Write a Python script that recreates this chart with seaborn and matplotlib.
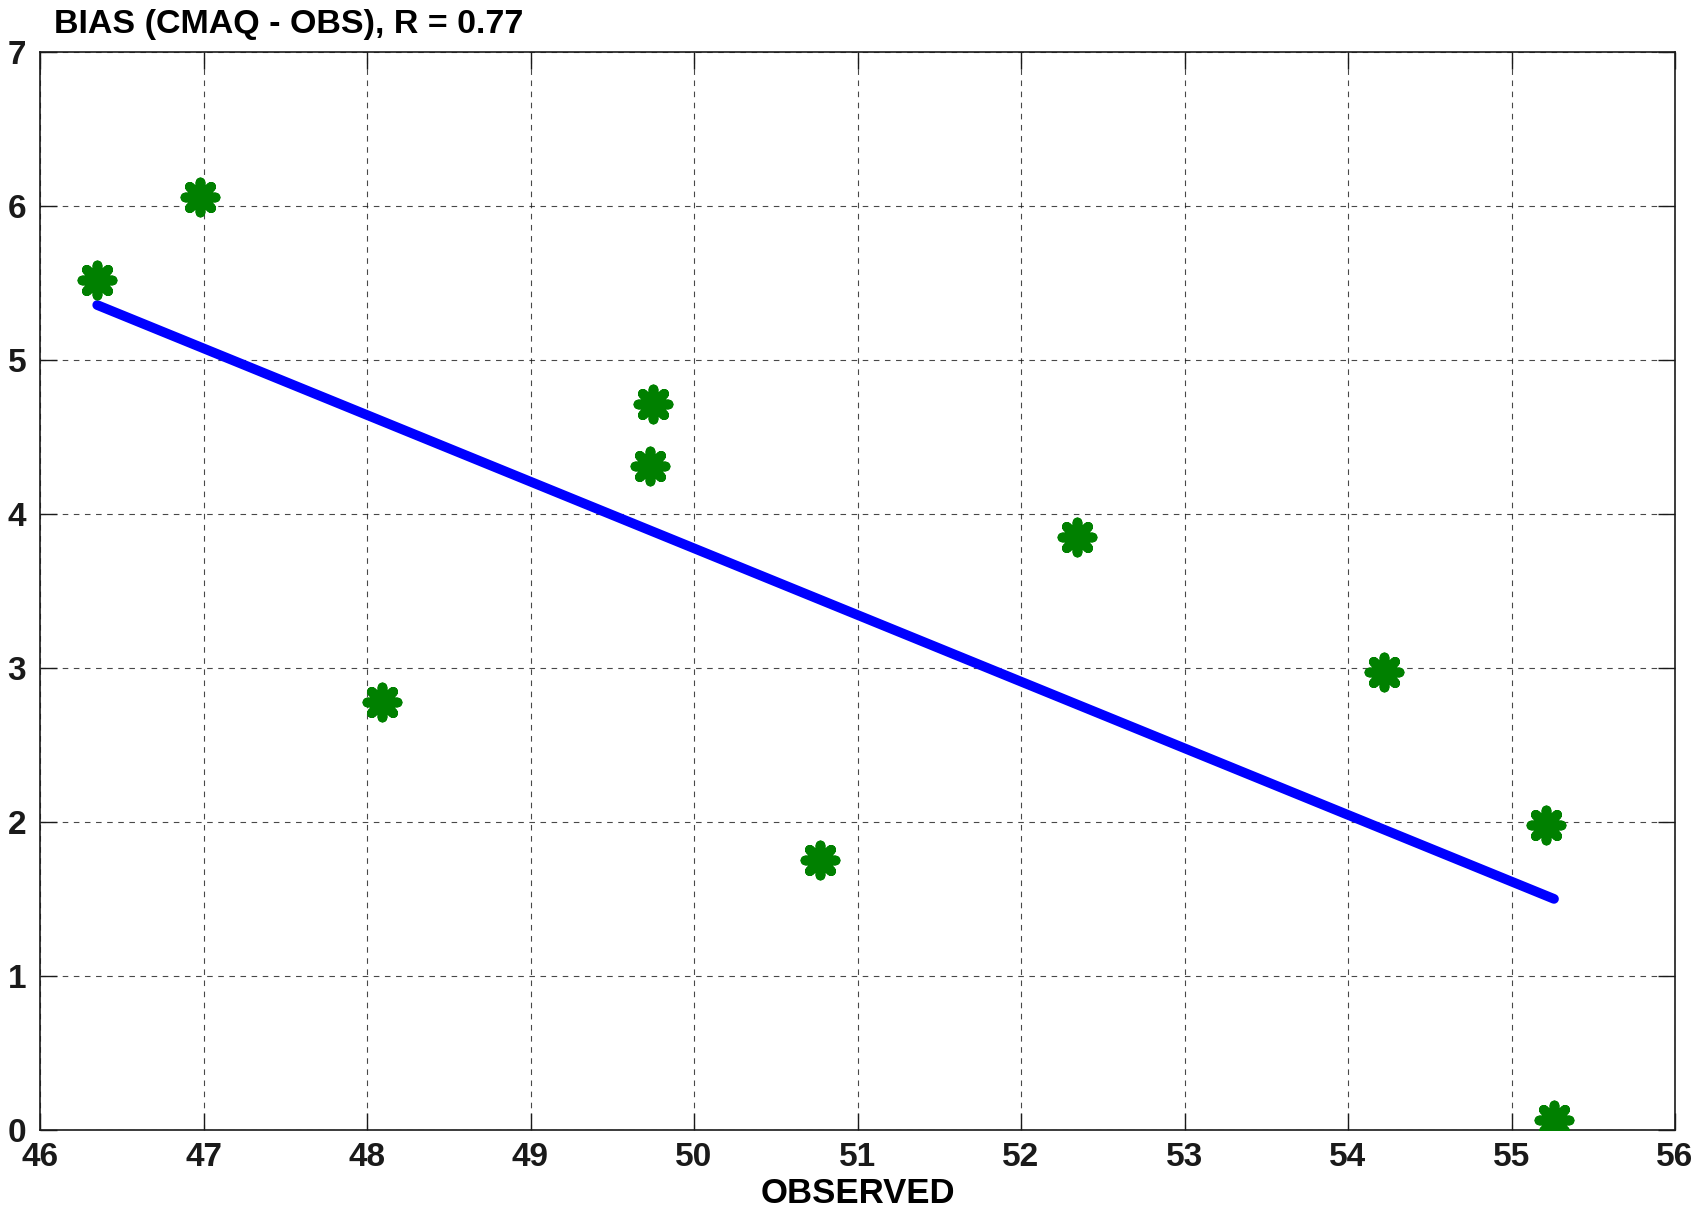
import matplotlib
matplotlib.use("Agg")
import matplotlib.pyplot as plt
import seaborn as sns
import numpy as np
import pandas as pd

# Data
observed = [46.35, 46.98, 48.09, 49.75, 49.73, 50.77, 52.34, 54.22, 55.21, 55.26]
bias = [5.52, 6.06, 2.78, 4.71, 4.31, 1.75, 3.85, 2.97, 1.98, 0.06]
x_ticks = [46, 47, 48, 49, 50, 51, 52, 53, 54, 55, 56]
y_ticks = [0, 1, 2, 3, 4, 5, 6, 7]
title_text = "BIAS (CMAQ - OBS), R = 0.77"
x_label = "OBSERVED"

sns.set_theme(style="white")
plt.rcParams["font.family"] = ["Liberation Sans", "DejaVu Sans"]
plt.rcParams["font.weight"] = "bold"
plt.rcParams["text.color"] = "black"
plt.rcParams["axes.labelcolor"] = "black"
plt.rcParams["xtick.color"] = "black"
plt.rcParams["ytick.color"] = "black"

df = pd.DataFrame({"obs": observed, "bias": bias})

fig = plt.figure(figsize=(16.98, 12.10), dpi=100)
ax = fig.add_axes([40 / 1698, 1 - 1129.5 / 1210, (1675 - 40) / 1698, (1129.5 - 52) / 1210])

sns.regplot(data=df, x="obs", y="bias", ax=ax, ci=None, truncate=True,
            marker=(8, 2, 0), color=(0, 0.5, 0),
            scatter_kws=dict(s=470, linewidths=7, alpha=1, zorder=3),
            line_kws=dict(color=(0, 0, 1), lw=7, solid_capstyle="round", zorder=2))
for coll in ax.collections:
    coll.set_capstyle("projecting")

ax.set_xlim(46, 56)
ax.set_ylim(0, 7)
ax.set_xticks(x_ticks)
ax.set_yticks(y_ticks)
ax.set_xticklabels([str(t) for t in x_ticks], fontsize=24, fontweight="bold", color="black")
ax.set_yticklabels([str(t) for t in y_ticks], fontsize=24, fontweight="bold", color="black")
ax.set_xlabel(x_label, fontsize=25, fontweight="bold", labelpad=3, color="black")
ax.set_ylabel("")

ax.grid(True, color="k", linestyle=(0, (5, 5)), linewidth=0.8, alpha=0.8)
ax.set_axisbelow(True)
for sp in ax.spines.values():
    sp.set_visible(True)
    sp.set_color("k")
    sp.set_linewidth(1.2)
ax.tick_params(direction="in", length=12, width=1.0, top=True, right=True,
               bottom=True, left=True, colors="k", pad=9)
ax.tick_params(axis="y", pad=10)

fig.text(54 / 1698, 1 - 24 / 1210, title_text, fontsize=24.5, fontweight="bold",
         ha="left", va="center", color="black")

fig.savefig("out.png", dpi=100, facecolor="white")
